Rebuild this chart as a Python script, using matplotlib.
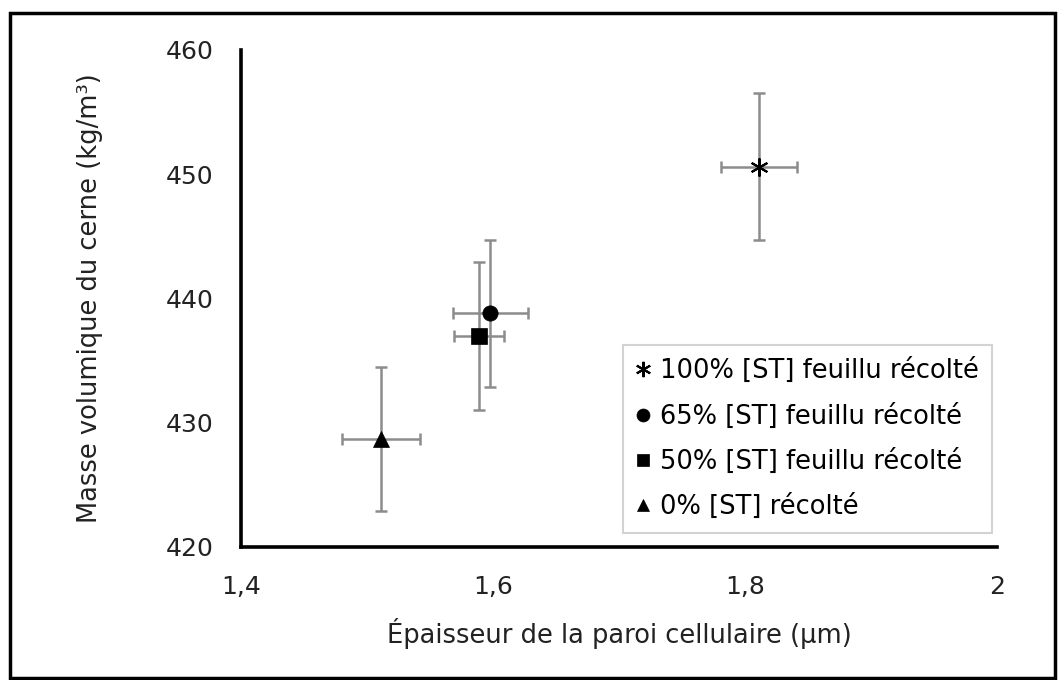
import matplotlib
matplotlib.use('Agg')
import matplotlib.pyplot as plt
from matplotlib.patches import Rectangle
from matplotlib.ticker import FuncFormatter

# données
labels = ['100% [ST] feuillu récolté', '65% [ST] feuillu récolté',
          '50% [ST] feuillu récolté', '0% [ST] récolté']
epaisseur = [1.811, 1.598, 1.589, 1.511]
epaisseur_err = [0.030, 0.030, 0.020, 0.031]
masse = [450.6, 438.8, 437.0, 428.7]
masse_err = [5.9, 5.9, 5.95, 5.8]
markers = [(6, 2, 0), 'o', 's', '^']
sizes = [13, 11, 11, 11]

fig = plt.figure(figsize=(10.64, 6.8), dpi=100)
ax = fig.add_axes([0.2265, 0.1956, 0.937 - 0.2265, 0.9265 - 0.1956])

for i in range(len(labels)):
    ax.errorbar(epaisseur[i], masse[i], xerr=epaisseur_err[i], yerr=masse_err[i],
                fmt='none', ecolor='#8c8c8c', elinewidth=1.8, capsize=4.5, capthick=1.8,
                zorder=2)
    ax.plot(epaisseur[i], masse[i], linestyle='none', marker=markers[i],
            markersize=sizes[i], color='black', markeredgecolor='black',
            markeredgewidth=1.5 if i == 0 else 0.5, label=labels[i], zorder=3)

ax.set_xlim(1.4, 2.0)
ax.set_ylim(420, 460)
ax.set_xticks([1.4, 1.6, 1.8, 2.0])
ax.set_yticks([420, 430, 440, 450, 460])
ax.xaxis.set_major_formatter(FuncFormatter(lambda v, p: ('%g' % round(v, 1)).replace('.', ',')))
ax.tick_params(length=0, labelsize=18, colors='#222222')
ax.tick_params(axis='y', pad=20)
ax.tick_params(axis='x', pad=20)

for s in ['top', 'right']:
    ax.spines[s].set_visible(False)
for s in ['left', 'bottom']:
    ax.spines[s].set_linewidth(2.6)
    ax.spines[s].set_color('black')

ax.set_xlabel('Épaisseur de la paroi cellulaire (µm)', fontsize=18.5, color='#222222', labelpad=14)
ax.set_ylabel('Masse volumique du cerne (kg/m³)', fontsize=18.5, color='#222222', labelpad=45)

leg = ax.legend(loc='lower right', bbox_to_anchor=(0.993, 0.028), borderaxespad=0,
                fontsize=18.5, frameon=True, fancybox=False, edgecolor='#c8c8c8',
                handlelength=0.6, handletextpad=0.35, borderpad=0.5, labelspacing=0.75,
                markerscale=0.85)
leg.get_frame().set_linewidth(1.5)

fig.patches.append(Rectangle((10 / 1064, 2 / 680), 1045 / 1064, 665 / 680,
                             transform=fig.transFigure, fill=False,
                             edgecolor='black', linewidth=2.5))

fig.savefig('out.png', dpi=100)
